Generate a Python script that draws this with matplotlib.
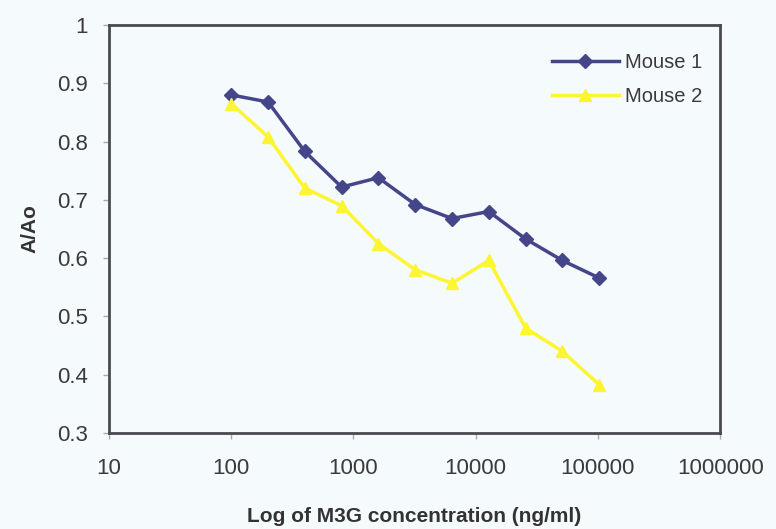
import numpy as np
import matplotlib
matplotlib.use('Agg')
import matplotlib.pyplot as plt

# dilution series, ng/ml
concentration = [100, 200, 400, 800, 1600, 3200, 6400, 12800, 25600, 51200, 102400]
mouse1 = [0.880, 0.868, 0.783, 0.722, 0.738, 0.692, 0.668, 0.680, 0.633, 0.596, 0.566]
mouse2 = [0.865, 0.808, 0.720, 0.690, 0.625, 0.580, 0.557, 0.596, 0.480, 0.440, 0.383]

x_ticks = [10, 100, 1000, 10000, 100000, 1000000]
y_ticks = [0.3, 0.4, 0.5, 0.6, 0.7, 0.8, 0.9, 1.0]

plt.rcParams['font.family'] = ['Liberation Sans', 'DejaVu Sans']

bg = '#f5fafc'
fig = plt.figure(figsize=(7.76, 5.29), dpi=100, facecolor=bg)
ax = fig.add_axes([0.1405, 0.1815, 0.7875, 0.7712], facecolor=bg)

ax.plot(concentration, mouse1, '-D', color='#45468a', linewidth=2.5,
        markersize=7, label='Mouse 1')
ax.plot(concentration, mouse2, '-^', color='#fbf532', linewidth=2.5,
        markersize=8, label='Mouse 2')

ax.set_xscale('log')
ax.set_xlim(10, 1000000)
ax.set_ylim(0.3, 1.0)
ax.set_xticks(x_ticks)
ax.set_xticklabels([str(t) for t in x_ticks])
ax.set_yticks(y_ticks)
ax.set_yticklabels(['0.3', '0.4', '0.5', '0.6', '0.7', '0.8', '0.9', '1'])
ax.minorticks_off()

for s in ax.spines.values():
    s.set_color('#4a4a52')
    s.set_linewidth(2)

ax.tick_params(axis='both', direction='out', length=4, width=1,
               color='#aaaaaa', labelsize=16, labelcolor='#3a3a3a')
ax.tick_params(axis='x', pad=14)
ax.tick_params(axis='y', pad=11)

ax.set_xlabel('Log of M3G concentration (ng/ml)', fontsize=15,
              fontweight='bold', color='#333333', labelpad=20)
ax.set_ylabel('A/Ao', fontsize=15, fontweight='bold', color='#333333',
              labelpad=13)

leg = ax.legend(loc='upper right', bbox_to_anchor=(1.0, 0.975), frameon=False,
                fontsize=14.5, handlelength=3.3, handletextpad=0.3,
                labelspacing=0.75)
for t in leg.get_texts():
    t.set_color('#3a3a3a')

plt.savefig('out.png', dpi=100, facecolor=bg)
plt.close()
